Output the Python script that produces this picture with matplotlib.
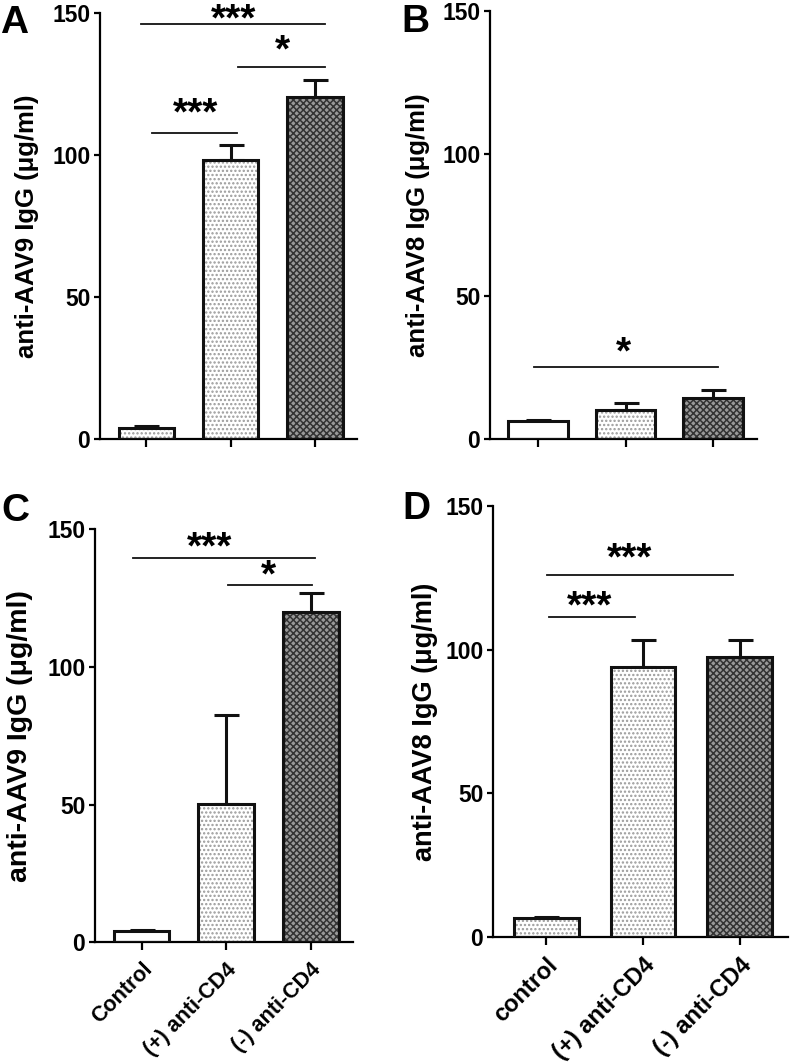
import numpy as np
import matplotlib
matplotlib.use("Agg")
import matplotlib.pyplot as plt

#==============================
#            DATA
#==============================
groups = ["Control", "(+) anti-CD4", "(-) anti-CD4"]
groups_d = ["control", "(+) anti-CD4", "(-) anti-CD4"]

meanA = [4.0, 98.2, 120.4]
errA = [0.5, 5.3, 6.0]
meanB = [6.3, 10.2, 14.3]
errB = [0.3, 2.3, 2.9]
meanC = [4.1, 50.2, 120.0]
errC = [0.4, 32.4, 6.8]
meanD = [6.5, 94.0, 97.5]
errD = [0.3, 9.5, 5.7]

# significance brackets: (x start, x end, line y, star x, star y, label)
sigA = [(-0.06, 2.12, 146.0, 1.03, 147.8, "***"),
        (1.09, 2.12, 131.0, 1.62, 137.0, "*"),
        (0.07, 1.08, 107.7, 0.58, 114.8, "***")]
sigB = [(-0.05, 2.06, 25.3, 0.97, 30.5, "*")]
sigC = [(-0.10, 2.05, 139.6, 0.80, 143.7, "***"),
        (1.02, 2.01, 129.9, 1.50, 133.3, "*")]
sigD = [(0.01, 1.93, 126.1, 0.86, 131.9, "***"),
        (0.03, 0.92, 111.5, 0.45, 115.1, "***")]

ylabA = "anti-AAV9 IgG (\u03bcg/ml)"
ylabB = "anti-AAV8 IgG (\u03bcg/ml)"

#==============================
#            STYLE
#==============================
plt.rcParams['font.family'] = ['Liberation Sans', 'DejaVu Sans']
plt.rcParams['font.weight'] = 'bold'
plt.rcParams['hatch.linewidth'] = 1.1

FILLS = [dict(fc='white', hatch='....', hc='#9a9a9a'),
         dict(fc='white', hatch='....', hc='#9a9a9a'),
         dict(fc='#999999', hatch='xxxxx', hc='#333333')]
WHITE = dict(fc='white', hatch='', hc='white')
STAR = 28


def panel(ax, means, errs, sigs, ylab, xlabels, ctrl_plain, width,
          ylab_x, ylab_fs, xfs):
    x = np.arange(len(means))
    for i in range(len(means)):
        st = WHITE if (i == 0 and ctrl_plain) else FILLS[i]
        ax.bar(x[i], means[i], width, color=st['fc'], hatch=st['hatch'],
               edgecolor=st['hc'], linewidth=0, zorder=2)
        ax.bar(x[i], means[i], width, fill=False, edgecolor='#111111',
               linewidth=2.2, zorder=3)
    ax.errorbar(x, means, yerr=[np.zeros(len(errs)), errs], fmt='none',
                ecolor='#111111', elinewidth=2.2, capsize=9, capthick=2.2,
                zorder=1)
    for x0, x1, y, sx, sy, lab in sigs:
        ax.plot([x0, x1], [y, y], color='#111111', lw=1.3)
        # put the visual centre of the asterisks near (sx, sy)
        ax.annotate(lab, (sx, sy), xytext=(0, -0.30 * STAR),
                    textcoords='offset points', ha='center', va='baseline',
                    fontsize=STAR, fontweight='bold')
    ax.set_ylim(0, 150)
    ax.set_yticks([0, 50, 100, 150])
    ax.set_xlim(-0.55, 2.5)
    ax.set_xticks(x)
    if xlabels is None:
        ax.set_xticklabels([])
    else:
        ax.set_xticklabels(xlabels, rotation=45, ha='right',
                           rotation_mode='anchor', fontsize=xfs,
                           fontweight='bold')
    for s in ['top', 'right']:
        ax.spines[s].set_visible(False)
    for s in ['left', 'bottom']:
        ax.spines[s].set_linewidth(1.6)
    ax.tick_params(axis='y', length=4, width=1.6, pad=3, labelsize=16.5)
    ax.tick_params(axis='x', length=6, width=1.6, pad=6)
    ax.set_ylabel(ylab, fontsize=ylab_fs, fontweight='bold', va='center')
    ax.yaxis.set_label_coords(ylab_x, 0.5)


fig = plt.figure(figsize=(7.92, 10.62), dpi=100)

axA = fig.add_axes([0.1263, 0.5866, 0.3245, 0.4012])
axB = fig.add_axes([0.6187, 0.5866, 0.3371, 0.4030])
axC = fig.add_axes([0.1200, 0.1127, 0.3257, 0.3889])
axD = fig.add_axes([0.6225, 0.1180, 0.3725, 0.4055])

panel(axA, meanA, errA, sigA, ylabA, None, False, 0.66, -0.285, 18.5, 14)
panel(axB, meanB, errB, sigB, ylabB, None, True, 0.68, -0.27, 18.5, 14)
panel(axC, meanC, errC, sigC, ylabA, groups, True, 0.66, -0.29, 20.5, 15.5)
panel(axD, meanD, errD, sigD, ylabB, groups_d, False, 0.67, -0.23, 19.5, 17)

fig.text(0.0, 0.969, "A", fontsize=28, fontweight='bold', va='baseline')
fig.text(0.507, 0.970, "B", fontsize=28, fontweight='bold', va='baseline')
fig.text(0.002, 0.509, "C", fontsize=28, fontweight='bold', va='baseline')
fig.text(0.508, 0.511, "D", fontsize=28, fontweight='bold', va='baseline')

fig.savefig("out.png", dpi=100)
